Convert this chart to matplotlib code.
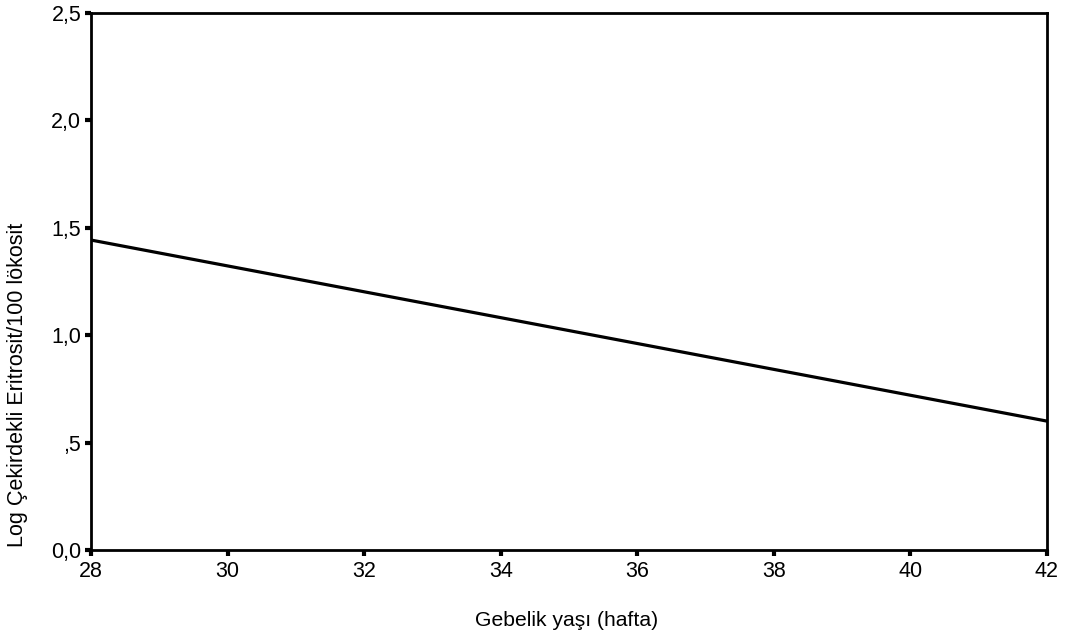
import matplotlib
matplotlib.use("Agg")
import matplotlib.pyplot as plt

plt.rcParams['font.family'] = ['Liberation Sans', 'DejaVu Sans']

# regression line end points
hafta = [28, 42]
log_eritrosit = [1.443, 0.60]

x_ticks = [28, 30, 32, 34, 36, 38, 40, 42]
y_ticks = [0.0, 0.5, 1.0, 1.5, 2.0, 2.5]
y_tick_labels = ['0,0', ',5', '1,0', '1,5', '2,0', '2,5']

fig = plt.figure(figsize=(10.67, 6.43), dpi=100)
ax = fig.add_axes([91 / 1067, 1 - 550 / 643, (1047 - 91) / 1067, (550 - 13) / 643])

ax.plot(hafta, log_eritrosit, color='black', linewidth=2.3)

ax.set_xlim(28, 42)
ax.set_ylim(0, 2.5)
ax.set_xticks(x_ticks)
ax.set_yticks(y_ticks)
ax.set_yticklabels(y_tick_labels)

for s in ax.spines.values():
    s.set_linewidth(2)
ax.tick_params(direction='out', length=4, width=3, labelsize=15.5)
ax.tick_params(axis='x', pad=4)
ax.tick_params(axis='y', pad=3)

ax.set_xlabel('Gebelik yaşı (hafta)', fontsize=15.2, va='center')
ax.set_ylabel('Log Çekirdekli Eritrosit/100 lökosit', fontsize=15.5, va='center')
# labels sit a bit off-centre in the original (set after set_*label, which resets them)
ax.xaxis.set_label_coords(0.497, -0.132)
ax.yaxis.set_label_coords(-0.077, 0.307)

fig.savefig('out.png', dpi=100)
